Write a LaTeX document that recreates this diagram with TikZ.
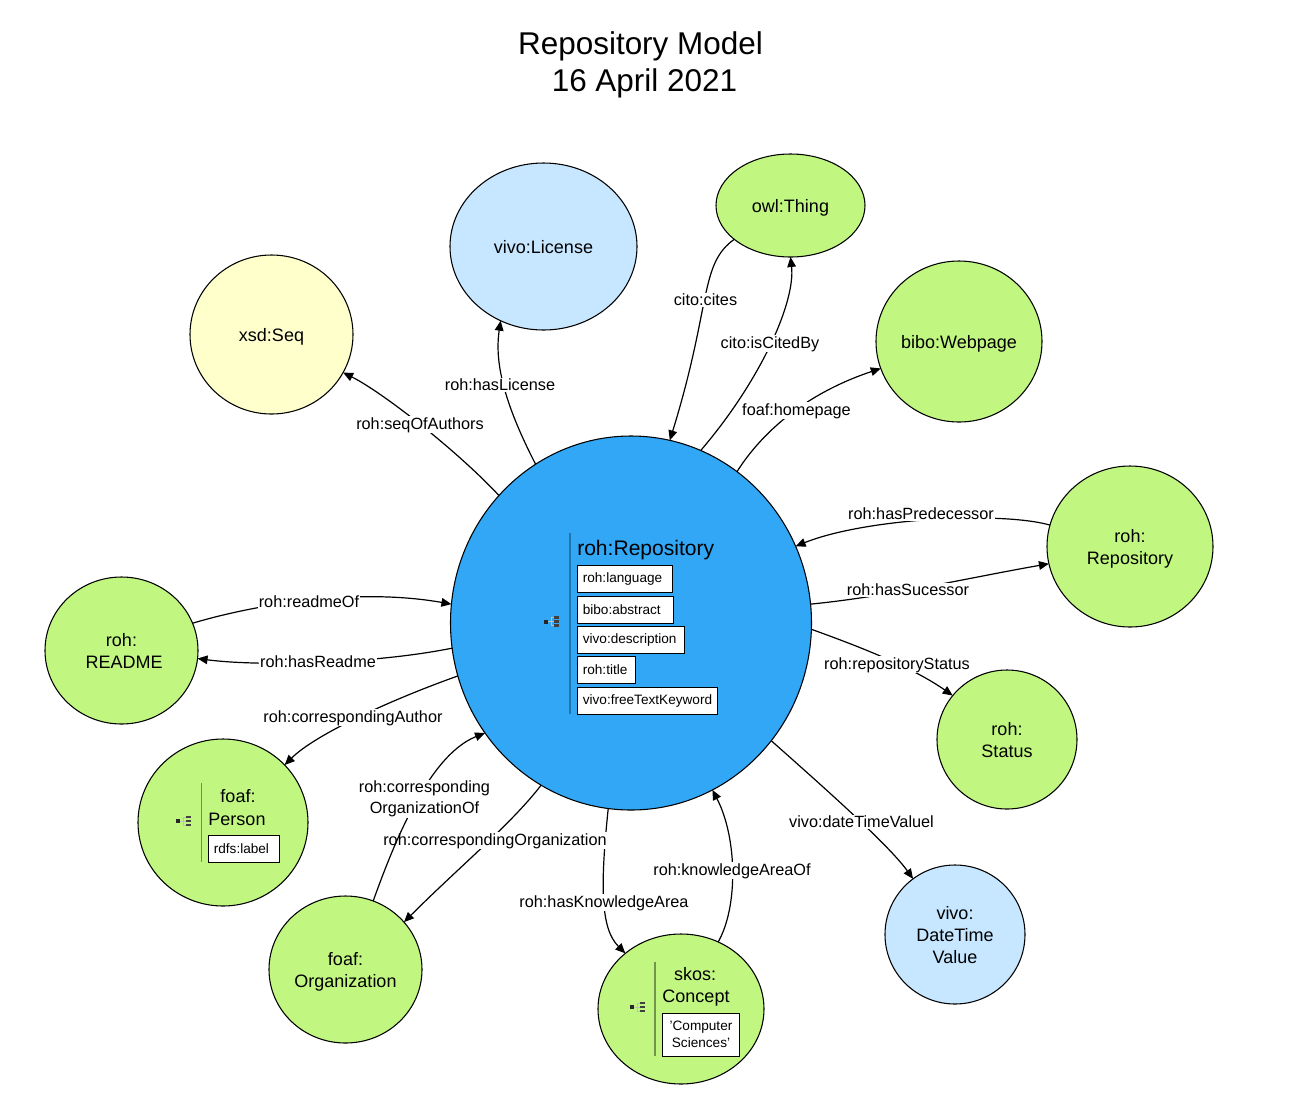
\documentclass[tikz,border=0pt]{standalone}
\usepackage{fontspec}
\setmainfont{Liberation Sans}
\usetikzlibrary{arrows.meta,shapes.geometric}

\definecolor{repoblue}{HTML}{31A7F6}
\definecolor{classgreen}{HTML}{C1F781}
\definecolor{paleblue}{HTML}{C6E7FF}
\definecolor{paleyellow}{HTML}{FFFFCC}

\tikzset{
    blob/.style 2 args={ellipse, draw, line width=0.8pt, inner sep=0pt, outer sep=0pt, align=center,
        font=\fontsize{13.5}{16.5}\selectfont, minimum width=#1*0.75pt, minimum height=#2*0.75pt},
    lift/.style={execute at begin node={\rule{0pt}{#1}}},
    edge/.style={-{Triangle[length=7.5pt,width=6.5pt]}, line width=0.9pt},
    edgelbl/.style={fill=white, inner sep=0.6pt, yshift=-0.6pt, align=center, font=\fontsize{12.2}{15.8}\selectfont},
    propbox/.style={draw, fill=white, anchor=west, line width=0.75pt, inner xsep=4pt, inner ysep=0pt,
        minimum height=20.25pt, text width=#1*0.75pt-8pt, align=left, font=\fontsize{10.2}{12.6}\selectfont},
    classlbl/.style={inner sep=0pt, font=\fontsize{13.5}{16.5}\selectfont}
}

\newcommand{\treeicon}[1]{
    \begin{scope}[shift={#1}]
        \draw[black!25, line width=0.4pt] (2,0) -- (8,0) (5,-4) -- (5,4) (5,-4) -- (8,-4) (5,4) -- (8,4);
        \fill[black!85] (-2,-2) rectangle (2,2);
        \fill[black!75] (8,-5.5) rectangle (13,-3);
        \fill[black!75] (8,-1.5) rectangle (13,1);
        \fill[black!75] (8,2.5) rectangle (13,5);
    \end{scope}
}

\begin{document}
\begin{tikzpicture}[x=0.75pt,y=-0.75pt]
    \useasboundingbox (0,0) rectangle (1290,1108);

    \node[align=center, inner sep=0pt, font=\fontsize{23.6}{27.75}\selectfont] (Title) at (644.5,65) {Repository Model\kern 6pt\\16 April 2021};

    % classes
    \node[blob={361}{374}, fill=repoblue] (Repo) at (631,623) {};
    \node[blob={163}{159}, lift=14pt, fill=paleyellow] (Seq) at (271.5,334.5) {xsd:Seq};
    \node[blob={187}{167}, lift=11pt, fill=paleblue] (License) at (543.5,246.5) {vivo:License};
    \node[blob={149}{103}, lift=14pt, fill=classgreen] (Thing) at (790.5,205.5) {owl:Thing};
    \node[blob={166}{161}, lift=14pt, fill=classgreen] (Webpage) at (959,341.5) {bibo:Webpage};
    \node[blob={166}{161}, lift=29.5pt, fill=classgreen] (PrevRepo) at (1130,546.5) {roh:\\Repository};
    \node[blob={140}{139}, lift=27.5pt, fill=classgreen] (Status) at (1007,739.5) {roh:\\Status};
    \node[blob={140}{139}, lift=43pt, fill=paleblue] (DateTime) at (955,934.5) {vivo:\\DateTime\\Value};
    \node[blob={166}{150}, fill=classgreen] (Concept) at (681,1009) {};
    \node[blob={153}{147}, lift=29.5pt, fill=classgreen] (Org) at (345.5,969.5) {foaf:\\Organization};
    \node[blob={170}{167}, fill=classgreen] (Person) at (223,822.5) {};
    \node[blob={153}{147}, fill=classgreen] (Readme) at (121.5,650.5) {roh:\\\hspace*{4pt}README};

    % roh:Repository content
    \draw[color=repoblue!70!black, line width=1pt] (570,533) -- (570,714);
    \treeicon{(546,621.5)}
    \node[inner sep=0pt, anchor=west, font=\fontsize{15.8}{19}\selectfont] (RepoName) at (577,550.5) {roh:Repository};
    \node[propbox=95] (PropLang) at (577,578.5) {roh:language};
    \node[propbox=96] (PropAbs) at (577,609.5) {bibo:abstract};
    \node[propbox=107] (PropDesc) at (577,639.5) {vivo:description};
    \node[propbox=58] (PropTitle) at (577,669.5) {roh:title};
    \node[propbox=140] (PropKey) at (577,700.5) {vivo:freeTextKeyword};

    % foaf:Person content
    \draw[color=classgreen!60!black, line width=1pt] (201.5,783) -- (201.5,862);
    \treeicon{(178,821)}
    \node[classlbl] (PersonA) at (238,796) {foaf:};
    \node[classlbl] (PersonB) at (237,819) {Person};
    \node[propbox=71] (PersonLbl) at (208,848.5) {rdfs:label};

    % skos:Concept content
    \draw[color=classgreen!60!black, line width=1pt] (655,962) -- (655,1056);
    \treeicon{(632,1007)}
    \node[classlbl] (ConceptA) at (695,974) {skos:};
    \node[classlbl] (ConceptB) at (696,998.5) {Concept};
    \node[propbox=77, align=center, minimum height=32.25pt] (ConceptLbl) at (662,1034.5) {'Computer\\Sciences'};

    % connectors
    \draw[edge] (Repo.136) .. controls +(-41,-44) and +(40,20) .. (Seq.-28);
    \draw[edge] (Repo.121) .. controls +(-33,-64) and +(-6,40) .. (License.-120);
    \draw[edge] (Thing.-149) .. controls +(-35,25) and +(42,-136) .. (Repo.78);
    \draw[edge] (Repo.68.5) .. controls +(60,-70) and +(5,45) .. (Thing.-90);
    \draw[edge] (Repo.55) .. controls +(30,-47) and +(-66,22) .. (Webpage.-161);
    \draw[edge] (PrevRepo.165) .. controls +(-50,-14) and +(70,-28) .. (Repo.25);
    \draw[edge] (Repo.6) .. controls +(80,-8) and +(-80,14) .. (PrevRepo.-168);
    \draw[edge] (Repo.-2) .. controls +(50,18) and +(-40,-28) .. (Status.141);
    \draw[edge] (Repo.-40) .. controls +(45,40) and +(-25,-35) .. (DateTime.127);
    \draw[edge] (Concept.61) .. controls +(20,-35) and +(25,48) .. (Repo.-64);
    \draw[edge] (Repo.-97) .. controls +(-8,77) and +(-25,-25) .. (Concept.135);
    \draw[edge] (Repo.-119) .. controls +(-30,39) and +(55,-55) .. (Org.39.5);
    \draw[edge] (Repo.-163) .. controls +(-70,25) and +(30,-30) .. (Person.43);
    \draw[edge] (Repo.-172) .. controls +(-79,16) and +(60,8) .. (Readme.-6);
    \draw[edge] (Readme.21) .. controls +(60,-18) and +(-96,-17) .. (Repo.174);

    % labels
    \node[edgelbl] (LblSeq) at (420,424) {roh:seqOfAuthors};
    \node[edgelbl] (LblLicense) at (500,384) {roh:hasLicense};
    \node[edgelbl] (LblCites) at (705.5,299) {cito:cites};
    \node[edgelbl] (LblCitedBy) at (770,343) {cito:isCitedBy};
    \node[edgelbl] (LblPage) at (796.5,410) {foaf:homepage};
    \node[edgelbl] (LblPred) at (921,513) {roh:hasPredecessor};
    \node[edgelbl] (LblSucc) at (908,589) {roh:hasSucessor};
    \node[edgelbl] (LblStatus) at (897,664) {roh:repositoryStatus};
    \node[edgelbl] (LblDate) at (861.5,821) {vivo:dateTimeValuel};
    \node[edgelbl] (LblAreaOf) at (732,870) {roh:knowledgeAreaOf};
    \node[edgelbl] (LblArea) at (604,902) {roh:hasKnowledgeArea};
    \node[edgelbl] (LblOrg) at (495,840) {roh:correspondingOrganization};
    \node[edgelbl] (LblAuthor) at (353,717) {roh:correspondingAuthor};
    \node[edgelbl] (LblHasRm) at (318,661) {roh:hasReadme};
    \node[edgelbl] (LblRmOf) at (309,601) {roh:readmeOf};

    % this one runs over the correspondingOrganization label
    \draw[edge] (Org.68) .. controls +(18,-50) and +(-58,23) .. (Repo.-143);
    \node[edgelbl] (LblOrgOf) at (424.5,798) {roh:corresponding\\OrganizationOf};
\end{tikzpicture}
\end{document}
